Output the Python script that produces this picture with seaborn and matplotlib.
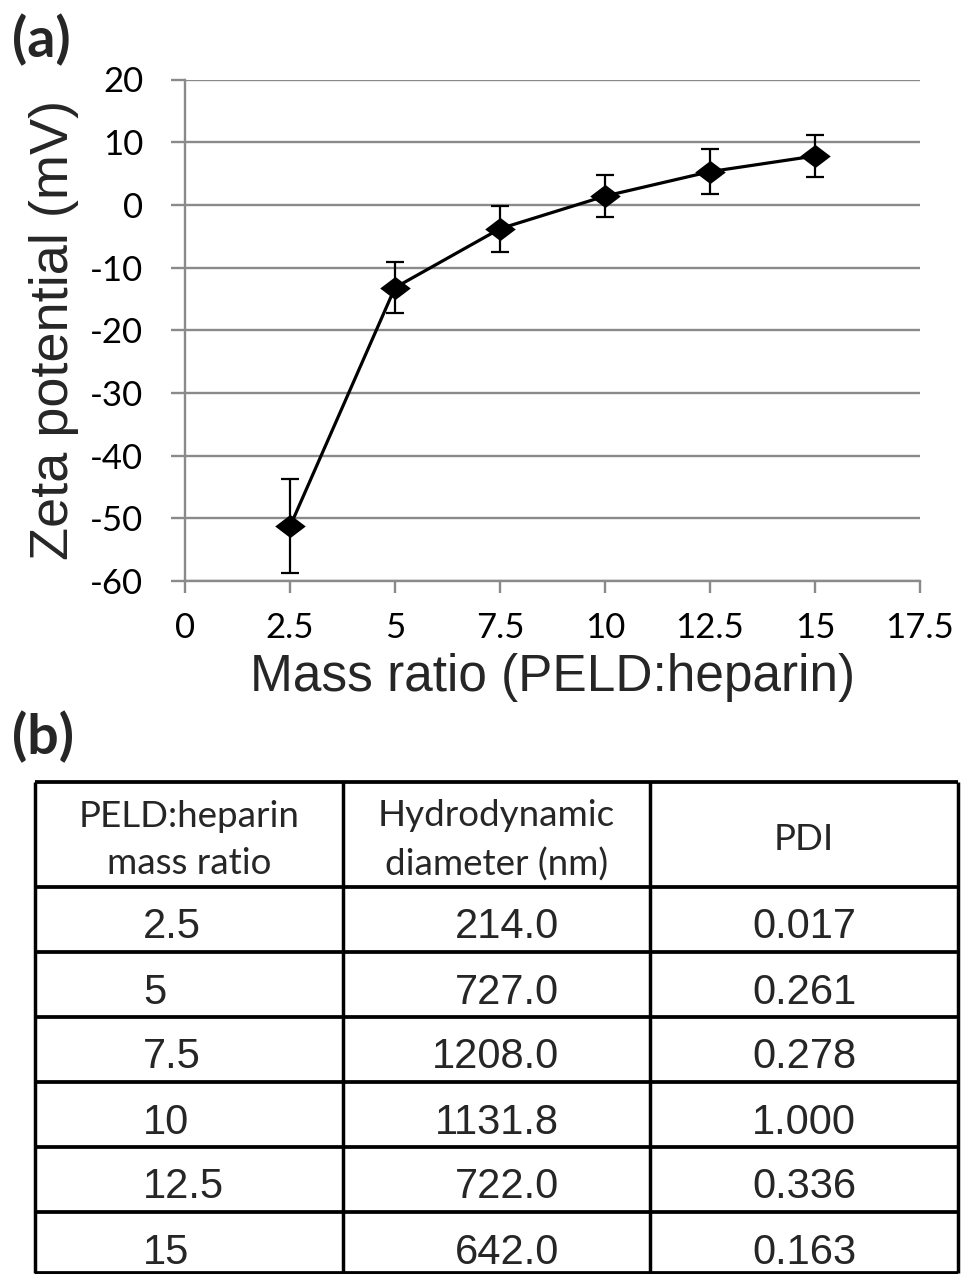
import matplotlib
matplotlib.use("Agg")
import matplotlib.pyplot as plt
from matplotlib.path import Path
import seaborn as sns
import pandas as pd

# ---------------- data ----------------
mass_ratio = [2.5, 5, 7.5, 10, 12.5, 15]
zeta_mv = [-51.3, -13.2, -3.8, 1.4, 5.3, 7.8]
zeta_err = [7.5, 4.1, 3.7, 3.4, 3.6, 3.3]

x_ticks = [0, 2.5, 5, 7.5, 10, 12.5, 15, 17.5]
x_tick_labels = ["0", "2.5", "5", "7.5", "10", "12.5", "15", "17.5"]
y_ticks = [-60, -50, -40, -30, -20, -10, 0, 10, 20]

table_header = ["PELD:heparin\nmass ratio", "Hydrodynamic\ndiameter (nm)", "PDI"]
table_ratio = ["2.5", "5", "7.5", "10", "12.5", "15"]
table_diameter = ["214.0", "727.0", "1208.0", "1131.8", "722.0", "642.0"]
table_pdi = ["0.017", "0.261", "0.278", "1.000", "0.336", "0.163"]

# ---------------- style ----------------
sns.set_style("white")
plt.rcParams["font.family"] = ["Liberation Sans", "DejaVu Sans"]
plt.rcParams["axes.unicode_minus"] = False

W, H = 968, 1274
fig = plt.figure(figsize=(W / 100, H / 100), dpi=100)

grid_col = "#8a8a8a"

# ---------------- panel (a) ----------------
ax = fig.add_axes([185 / W, 1 - 581 / H, (920 - 185) / W, (581 - 79.5) / H])
df = pd.DataFrame({"ratio": mass_ratio, "zeta": zeta_mv})

diamond = Path([(-1.0, 0.0), (0.0, 0.76), (1.0, 0.0), (0.0, -0.76), (-1.0, 0.0)],
               [Path.MOVETO, Path.LINETO, Path.LINETO, Path.LINETO, Path.CLOSEPOLY])

ax.errorbar(mass_ratio, zeta_mv, yerr=zeta_err, fmt="none", ecolor="black",
            elinewidth=1.6, capsize=6.5, capthick=1.6, zorder=3)
sns.lineplot(data=df, x="ratio", y="zeta", ax=ax, color="black", linewidth=2.3,
             marker=diamond, markersize=22, markeredgewidth=0,
             markerfacecolor="black", zorder=4)

ax.set_xlim(0, 17.5)
ax.set_ylim(-60, 20)
ax.set_xticks(x_ticks)
ax.set_xticklabels(x_tick_labels)
ax.set_yticks(y_ticks)
ax.yaxis.grid(True, color=grid_col, linewidth=1.7)
ax.xaxis.grid(False)
ax.set_axisbelow(True)
for s in ["top", "right"]:
    ax.spines[s].set_visible(False)
for s in ["left", "bottom"]:
    ax.spines[s].set_color(grid_col)
    ax.spines[s].set_linewidth(1.7)

ax.tick_params(axis="y", which="major", direction="out", length=10, width=1.7,
               color=grid_col, pad=20, left=True)
ax.tick_params(axis="x", which="major", direction="out", length=8.6, width=1.7,
               color=grid_col, pad=14, bottom=True)
for lab in ax.get_xticklabels() + ax.get_yticklabels():
    lab.set_fontfamily(["Lato", "DejaVu Sans"])
    lab.set_fontsize(25)
    lab.set_color("black")

ax.set_xlabel("Mass ratio (PELD:heparin)", fontsize=37, labelpad=6)
ax.set_ylabel("Zeta potential (mV)", fontsize=39, labelpad=8)

fig.text(12 / W, 1 - 40 / H, "(a)", fontsize=40, fontweight="bold",
         family=["Lato", "DejaVu Sans"], ha="left", va="center")
fig.text(12 / W, 1 - 737 / H, "(b)", fontsize=40, fontweight="bold",
         family=["Lato", "DejaVu Sans"], ha="left", va="center")

# ---------------- panel (b): table ----------------
tax = fig.add_axes([0, 0, 1, 1])
tax.set_xlim(0, W)
tax.set_ylim(H, 0)
tax.set_axis_off()

col_edges = [35, 343, 650, 958]
row_edges = [782, 887, 952, 1017, 1082, 1147, 1212, 1273]

tax.hlines(row_edges, col_edges[0], col_edges[-1], color="black", linewidth=2.7)
tax.vlines(col_edges, row_edges[0], row_edges[-1], color="black", linewidth=2.5)

header_cx = [(col_edges[i] + col_edges[i + 1]) / 2 for i in range(3)]
for cx, txt in zip(header_cx, table_header):
    tax.text(cx, 840, txt, ha="center", va="center", fontsize=26.5,
             family=["Lato", "DejaVu Sans"], linespacing=1.55)

for i in range(len(table_ratio)):
    base = row_edges[i + 1] + 51.5
    tax.text(143, base, table_ratio[i], ha="left", va="baseline", fontsize=30)
    tax.text(559, base, table_diameter[i], ha="right", va="baseline", fontsize=30)
    tax.text(header_cx[2], base, table_pdi[i], ha="center", va="baseline", fontsize=30)

fig.savefig("out.png", dpi=100)
